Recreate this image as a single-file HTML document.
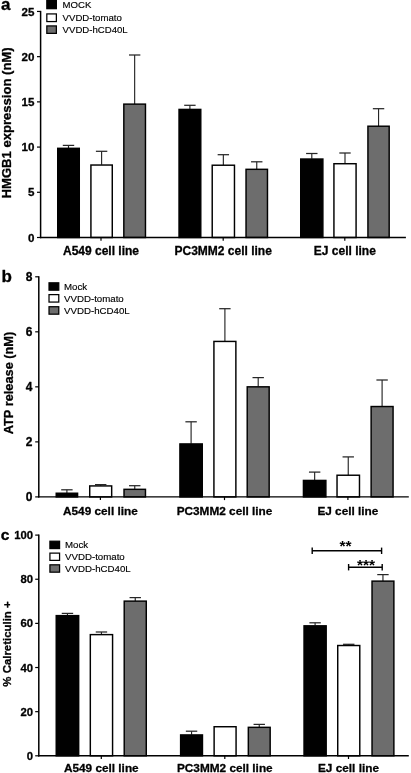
<!DOCTYPE html>
<html><head><meta charset="utf-8"><title>chart</title>
<style>
html,body{margin:0;padding:0;background:#fff;}
body{width:411px;height:773px;overflow:hidden;font-family:"Liberation Sans",sans-serif;}
svg{display:block;opacity:0.999;will-change:transform;}
svg text{font-family:"Liberation Sans",sans-serif;fill:#000;}
.b{stroke:#000;stroke-width:0.3px;stroke-linejoin:round;}
.b{font-weight:bold;}
.l{stroke:#000;stroke-width:0.15px;}
</style></head><body>
<svg width="411" height="773" viewBox="0 0 411 773">
<rect x="0" y="0" width="411" height="773" fill="#fff"/>
<line x1="68.50" y1="145.40" x2="68.50" y2="148.10" stroke="#262626" stroke-width="1.15"/>
<line x1="62.80" y1="145.40" x2="74.20" y2="145.40" stroke="#262626" stroke-width="1.25"/>
<rect x="57.73" y="148.32" width="21.55" height="89.18" fill="#000" stroke="#000" stroke-width="1.45"/>
<line x1="101.60" y1="151.30" x2="101.60" y2="164.80" stroke="#262626" stroke-width="1.15"/>
<line x1="95.90" y1="151.30" x2="107.30" y2="151.30" stroke="#262626" stroke-width="1.25"/>
<rect x="90.92" y="165.03" width="21.35" height="72.47" fill="#fff" stroke="#000" stroke-width="1.45"/>
<line x1="134.65" y1="55.00" x2="134.65" y2="103.90" stroke="#262626" stroke-width="1.15"/>
<line x1="128.95" y1="55.00" x2="140.35" y2="55.00" stroke="#262626" stroke-width="1.25"/>
<rect x="123.82" y="104.12" width="21.65" height="133.38" fill="#6d6d6d" stroke="#000" stroke-width="1.45"/>
<line x1="189.90" y1="105.30" x2="189.90" y2="109.20" stroke="#262626" stroke-width="1.15"/>
<line x1="184.20" y1="105.30" x2="195.60" y2="105.30" stroke="#262626" stroke-width="1.25"/>
<rect x="179.03" y="109.42" width="21.75" height="128.08" fill="#000" stroke="#000" stroke-width="1.45"/>
<line x1="223.35" y1="154.70" x2="223.35" y2="165.00" stroke="#262626" stroke-width="1.15"/>
<line x1="217.65" y1="154.70" x2="229.05" y2="154.70" stroke="#262626" stroke-width="1.25"/>
<rect x="212.22" y="165.22" width="22.25" height="72.28" fill="#fff" stroke="#000" stroke-width="1.45"/>
<line x1="256.75" y1="161.80" x2="256.75" y2="169.10" stroke="#262626" stroke-width="1.15"/>
<line x1="251.05" y1="161.80" x2="262.45" y2="161.80" stroke="#262626" stroke-width="1.25"/>
<rect x="246.03" y="169.32" width="21.45" height="68.18" fill="#6d6d6d" stroke="#000" stroke-width="1.45"/>
<line x1="311.80" y1="153.50" x2="311.80" y2="158.80" stroke="#262626" stroke-width="1.15"/>
<line x1="306.10" y1="153.50" x2="317.50" y2="153.50" stroke="#262626" stroke-width="1.25"/>
<rect x="300.73" y="159.03" width="22.15" height="78.47" fill="#000" stroke="#000" stroke-width="1.45"/>
<line x1="345.00" y1="153.00" x2="345.00" y2="163.50" stroke="#262626" stroke-width="1.15"/>
<line x1="339.30" y1="153.00" x2="350.70" y2="153.00" stroke="#262626" stroke-width="1.25"/>
<rect x="333.93" y="163.72" width="22.15" height="73.78" fill="#fff" stroke="#000" stroke-width="1.45"/>
<line x1="378.55" y1="108.70" x2="378.55" y2="126.00" stroke="#262626" stroke-width="1.15"/>
<line x1="372.85" y1="108.70" x2="384.25" y2="108.70" stroke="#262626" stroke-width="1.25"/>
<rect x="367.93" y="126.22" width="21.25" height="111.28" fill="#6d6d6d" stroke="#000" stroke-width="1.45"/>
<line x1="40.60" y1="10.85" x2="40.60" y2="238.20" stroke="#000" stroke-width="1.50"/>
<line x1="39.90" y1="237.50" x2="405.90" y2="237.50" stroke="#000" stroke-width="1.40"/>
<line x1="37.00" y1="237.50" x2="40.60" y2="237.50" stroke="#000" stroke-width="1.20"/>
<text class="b" x="34.40" y="241.62" font-size="11.6" text-anchor="end">0</text>
<line x1="37.00" y1="192.29" x2="40.60" y2="192.29" stroke="#000" stroke-width="1.20"/>
<text class="b" x="34.40" y="196.41" font-size="11.6" text-anchor="end">5</text>
<line x1="37.00" y1="147.08" x2="40.60" y2="147.08" stroke="#000" stroke-width="1.20"/>
<text class="b" x="34.40" y="151.20" font-size="11.6" text-anchor="end">10</text>
<line x1="37.00" y1="101.87" x2="40.60" y2="101.87" stroke="#000" stroke-width="1.20"/>
<text class="b" x="34.40" y="105.99" font-size="11.6" text-anchor="end">15</text>
<line x1="37.00" y1="56.66" x2="40.60" y2="56.66" stroke="#000" stroke-width="1.20"/>
<text class="b" x="34.40" y="60.78" font-size="11.6" text-anchor="end">20</text>
<line x1="37.00" y1="11.45" x2="40.60" y2="11.45" stroke="#000" stroke-width="1.20"/>
<text class="b" x="34.40" y="15.57" font-size="11.6" text-anchor="end">25</text>
<line x1="101.00" y1="237.50" x2="101.00" y2="240.70" stroke="#000" stroke-width="1.20"/>
<text class="b" x="101.00" y="255.30" font-size="12" text-anchor="middle">A549 cell line</text>
<line x1="223.20" y1="237.50" x2="223.20" y2="240.70" stroke="#000" stroke-width="1.20"/>
<text class="b" x="223.20" y="255.30" font-size="12" text-anchor="middle">PC3MM2 cell line</text>
<line x1="344.80" y1="237.50" x2="344.80" y2="240.70" stroke="#000" stroke-width="1.20"/>
<text class="b" x="344.80" y="255.30" font-size="12" text-anchor="middle">EJ cell line</text>
<text class="b" transform="translate(11.10 122.90) rotate(-90)" font-size="13" text-anchor="middle" textLength="151.0" lengthAdjust="spacingAndGlyphs">HMGB1 expression (nM)</text>
<text class="b" x="1.10" y="10.20" font-size="17">a</text>
<rect x="46.82" y="-0.38" width="9.55" height="9.05" fill="#000" stroke="#000" stroke-width="1.25"/>
<text class="l" x="62.60" y="8.40" font-size="9.6">MOCK</text>
<rect x="46.82" y="13.92" width="9.55" height="7.65" fill="#fff" stroke="#000" stroke-width="1.25"/>
<text class="l" x="62.60" y="21.30" font-size="9.6">VVDD-tomato</text>
<rect x="46.82" y="25.92" width="9.55" height="7.45" fill="#6d6d6d" stroke="#000" stroke-width="1.25"/>
<text class="l" x="62.60" y="33.10" font-size="9.6">VVDD-hCD40L</text>
<line x1="66.90" y1="489.80" x2="66.90" y2="493.00" stroke="#262626" stroke-width="1.15"/>
<line x1="61.20" y1="489.80" x2="72.60" y2="489.80" stroke="#262626" stroke-width="1.25"/>
<rect x="56.23" y="493.23" width="21.35" height="3.67" fill="#000" stroke="#000" stroke-width="1.45"/>
<line x1="100.70" y1="484.60" x2="100.70" y2="485.70" stroke="#262626" stroke-width="1.15"/>
<line x1="95.00" y1="484.60" x2="106.40" y2="484.60" stroke="#262626" stroke-width="1.25"/>
<rect x="89.72" y="485.93" width="21.95" height="10.97" fill="#fff" stroke="#000" stroke-width="1.45"/>
<line x1="134.75" y1="485.70" x2="134.75" y2="489.10" stroke="#262626" stroke-width="1.15"/>
<line x1="129.05" y1="485.70" x2="140.45" y2="485.70" stroke="#262626" stroke-width="1.25"/>
<rect x="124.02" y="489.33" width="21.45" height="7.57" fill="#6d6d6d" stroke="#000" stroke-width="1.45"/>
<line x1="191.10" y1="421.80" x2="191.10" y2="443.70" stroke="#262626" stroke-width="1.15"/>
<line x1="185.40" y1="421.80" x2="196.80" y2="421.80" stroke="#262626" stroke-width="1.25"/>
<rect x="179.92" y="443.93" width="22.35" height="52.97" fill="#000" stroke="#000" stroke-width="1.45"/>
<line x1="224.90" y1="308.70" x2="224.90" y2="341.20" stroke="#262626" stroke-width="1.15"/>
<line x1="219.20" y1="308.70" x2="230.60" y2="308.70" stroke="#262626" stroke-width="1.25"/>
<rect x="213.92" y="341.43" width="21.95" height="155.47" fill="#fff" stroke="#000" stroke-width="1.45"/>
<line x1="258.20" y1="377.60" x2="258.20" y2="386.60" stroke="#262626" stroke-width="1.15"/>
<line x1="252.50" y1="377.60" x2="263.90" y2="377.60" stroke="#262626" stroke-width="1.25"/>
<rect x="247.22" y="386.83" width="21.95" height="110.07" fill="#6d6d6d" stroke="#000" stroke-width="1.45"/>
<line x1="314.65" y1="472.10" x2="314.65" y2="480.20" stroke="#262626" stroke-width="1.15"/>
<line x1="308.95" y1="472.10" x2="320.35" y2="472.10" stroke="#262626" stroke-width="1.25"/>
<rect x="303.43" y="480.43" width="22.45" height="16.47" fill="#000" stroke="#000" stroke-width="1.45"/>
<line x1="348.25" y1="456.90" x2="348.25" y2="475.00" stroke="#262626" stroke-width="1.15"/>
<line x1="342.55" y1="456.90" x2="353.95" y2="456.90" stroke="#262626" stroke-width="1.25"/>
<rect x="337.03" y="475.23" width="22.45" height="21.67" fill="#fff" stroke="#000" stroke-width="1.45"/>
<line x1="382.10" y1="380.00" x2="382.10" y2="406.30" stroke="#262626" stroke-width="1.15"/>
<line x1="376.40" y1="380.00" x2="387.80" y2="380.00" stroke="#262626" stroke-width="1.25"/>
<rect x="371.12" y="406.53" width="21.95" height="90.37" fill="#6d6d6d" stroke="#000" stroke-width="1.45"/>
<line x1="38.80" y1="276.20" x2="38.80" y2="497.60" stroke="#000" stroke-width="1.50"/>
<line x1="38.10" y1="496.90" x2="408.80" y2="496.90" stroke="#000" stroke-width="1.40"/>
<line x1="35.20" y1="496.90" x2="38.80" y2="496.90" stroke="#000" stroke-width="1.20"/>
<text class="b" x="32.40" y="501.16" font-size="12" text-anchor="end">0</text>
<line x1="35.20" y1="441.88" x2="38.80" y2="441.88" stroke="#000" stroke-width="1.20"/>
<text class="b" x="32.40" y="446.13" font-size="12" text-anchor="end">2</text>
<line x1="35.20" y1="386.85" x2="38.80" y2="386.85" stroke="#000" stroke-width="1.20"/>
<text class="b" x="32.40" y="391.11" font-size="12" text-anchor="end">4</text>
<line x1="35.20" y1="331.82" x2="38.80" y2="331.82" stroke="#000" stroke-width="1.20"/>
<text class="b" x="32.40" y="336.08" font-size="12" text-anchor="end">6</text>
<line x1="35.20" y1="276.80" x2="38.80" y2="276.80" stroke="#000" stroke-width="1.20"/>
<text class="b" x="32.40" y="281.06" font-size="12" text-anchor="end">8</text>
<line x1="100.40" y1="496.90" x2="100.40" y2="500.10" stroke="#000" stroke-width="1.20"/>
<text class="b" x="100.40" y="514.70" font-size="11.8" text-anchor="middle">A549 cell line</text>
<line x1="224.50" y1="496.90" x2="224.50" y2="500.10" stroke="#000" stroke-width="1.20"/>
<text class="b" x="224.50" y="514.70" font-size="11.8" text-anchor="middle">PC3MM2 cell line</text>
<line x1="347.90" y1="496.90" x2="347.90" y2="500.10" stroke="#000" stroke-width="1.20"/>
<text class="b" x="347.90" y="514.70" font-size="11.8" text-anchor="middle">EJ cell line</text>
<text class="b" transform="translate(12.80 383.00) rotate(-90)" font-size="13.4" text-anchor="middle" textLength="102.5" lengthAdjust="spacingAndGlyphs">ATP release (nM)</text>
<text class="b" x="1.60" y="281.90" font-size="17">b</text>
<rect x="49.02" y="282.82" width="9.75" height="7.35" fill="#000" stroke="#000" stroke-width="1.25"/>
<text class="l" x="64.00" y="289.90" font-size="9.7">Mock</text>
<rect x="49.02" y="294.62" width="9.75" height="7.45" fill="#fff" stroke="#000" stroke-width="1.25"/>
<text class="l" x="64.00" y="301.80" font-size="9.7">VVDD-tomato</text>
<rect x="49.02" y="306.72" width="9.75" height="7.45" fill="#6d6d6d" stroke="#000" stroke-width="1.25"/>
<text class="l" x="64.00" y="313.90" font-size="9.7">VVDD-hCD40L</text>
<line x1="67.45" y1="613.40" x2="67.45" y2="615.40" stroke="#262626" stroke-width="1.15"/>
<line x1="61.75" y1="613.40" x2="73.15" y2="613.40" stroke="#262626" stroke-width="1.25"/>
<rect x="56.23" y="615.62" width="22.45" height="140.17" fill="#000" stroke="#000" stroke-width="1.45"/>
<line x1="101.45" y1="632.00" x2="101.45" y2="634.40" stroke="#262626" stroke-width="1.15"/>
<line x1="95.75" y1="632.00" x2="107.15" y2="632.00" stroke="#262626" stroke-width="1.25"/>
<rect x="90.32" y="634.62" width="22.25" height="121.17" fill="#fff" stroke="#000" stroke-width="1.45"/>
<line x1="135.25" y1="597.60" x2="135.25" y2="600.90" stroke="#262626" stroke-width="1.15"/>
<line x1="129.55" y1="597.60" x2="140.95" y2="597.60" stroke="#262626" stroke-width="1.25"/>
<rect x="124.22" y="601.12" width="22.05" height="154.67" fill="#6d6d6d" stroke="#000" stroke-width="1.45"/>
<line x1="191.55" y1="731.20" x2="191.55" y2="734.70" stroke="#262626" stroke-width="1.15"/>
<line x1="185.85" y1="731.20" x2="197.25" y2="731.20" stroke="#262626" stroke-width="1.25"/>
<rect x="180.62" y="734.93" width="21.85" height="20.87" fill="#000" stroke="#000" stroke-width="1.45"/>
<rect x="214.12" y="726.73" width="21.95" height="29.07" fill="#fff" stroke="#000" stroke-width="1.45"/>
<line x1="259.25" y1="724.40" x2="259.25" y2="727.10" stroke="#262626" stroke-width="1.15"/>
<line x1="253.55" y1="724.40" x2="264.95" y2="724.40" stroke="#262626" stroke-width="1.25"/>
<rect x="248.32" y="727.33" width="21.85" height="28.47" fill="#6d6d6d" stroke="#000" stroke-width="1.45"/>
<line x1="315.10" y1="622.80" x2="315.10" y2="625.60" stroke="#262626" stroke-width="1.15"/>
<line x1="309.40" y1="622.80" x2="320.80" y2="622.80" stroke="#262626" stroke-width="1.25"/>
<rect x="304.03" y="625.83" width="22.15" height="129.97" fill="#000" stroke="#000" stroke-width="1.45"/>
<line x1="348.75" y1="644.30" x2="348.75" y2="645.30" stroke="#262626" stroke-width="1.15"/>
<line x1="343.05" y1="644.30" x2="354.45" y2="644.30" stroke="#262626" stroke-width="1.25"/>
<rect x="337.73" y="645.52" width="22.05" height="110.28" fill="#fff" stroke="#000" stroke-width="1.45"/>
<line x1="382.95" y1="574.60" x2="382.95" y2="580.90" stroke="#262626" stroke-width="1.15"/>
<line x1="377.25" y1="574.60" x2="388.65" y2="574.60" stroke="#262626" stroke-width="1.25"/>
<rect x="372.03" y="581.12" width="21.85" height="174.67" fill="#6d6d6d" stroke="#000" stroke-width="1.45"/>
<line x1="38.80" y1="534.50" x2="38.80" y2="756.50" stroke="#000" stroke-width="1.50"/>
<line x1="38.10" y1="755.80" x2="408.80" y2="755.80" stroke="#000" stroke-width="1.40"/>
<line x1="35.20" y1="755.80" x2="38.80" y2="755.80" stroke="#000" stroke-width="1.20"/>
<text class="b" x="33.10" y="759.81" font-size="11.3" text-anchor="end">0</text>
<line x1="35.20" y1="711.66" x2="38.80" y2="711.66" stroke="#000" stroke-width="1.20"/>
<text class="b" x="33.10" y="715.67" font-size="11.3" text-anchor="end">20</text>
<line x1="35.20" y1="667.52" x2="38.80" y2="667.52" stroke="#000" stroke-width="1.20"/>
<text class="b" x="33.10" y="671.53" font-size="11.3" text-anchor="end">40</text>
<line x1="35.20" y1="623.38" x2="38.80" y2="623.38" stroke="#000" stroke-width="1.20"/>
<text class="b" x="33.10" y="627.39" font-size="11.3" text-anchor="end">60</text>
<line x1="35.20" y1="579.24" x2="38.80" y2="579.24" stroke="#000" stroke-width="1.20"/>
<text class="b" x="33.10" y="583.25" font-size="11.3" text-anchor="end">80</text>
<line x1="35.20" y1="535.10" x2="38.80" y2="535.10" stroke="#000" stroke-width="1.20"/>
<text class="b" x="33.10" y="539.11" font-size="11.3" text-anchor="end">100</text>
<line x1="101.30" y1="755.80" x2="101.30" y2="759.00" stroke="#000" stroke-width="1.20"/>
<text class="b" x="101.30" y="772.10" font-size="11.8" text-anchor="middle">A549 cell line</text>
<line x1="224.80" y1="755.80" x2="224.80" y2="759.00" stroke="#000" stroke-width="1.20"/>
<text class="b" x="224.80" y="772.10" font-size="11.8" text-anchor="middle">PC3MM2 cell line</text>
<line x1="348.50" y1="755.80" x2="348.50" y2="759.00" stroke="#000" stroke-width="1.20"/>
<text class="b" x="348.50" y="772.10" font-size="11.8" text-anchor="middle">EJ cell line</text>
<text class="b" transform="translate(11.20 644.00) rotate(-90)" font-size="11.5" text-anchor="middle" textLength="85.3" lengthAdjust="spacingAndGlyphs">% Calreticulin +</text>
<text class="b" x="0.80" y="540.00" font-size="15.5">c</text>
<rect x="49.92" y="541.22" width="9.65" height="7.35" fill="#000" stroke="#000" stroke-width="1.25"/>
<text class="l" x="65.00" y="548.30" font-size="9.7">Mock</text>
<rect x="49.92" y="553.12" width="9.65" height="7.25" fill="#fff" stroke="#000" stroke-width="1.25"/>
<text class="l" x="65.00" y="560.10" font-size="9.7">VVDD-tomato</text>
<rect x="49.92" y="564.82" width="9.65" height="7.35" fill="#6d6d6d" stroke="#000" stroke-width="1.25"/>
<text class="l" x="65.00" y="571.90" font-size="9.7">VVDD-hCD40L</text>
<line x1="312.20" y1="550.80" x2="381.60" y2="550.80" stroke="#000" stroke-width="1.50"/>
<line x1="312.20" y1="547.60" x2="312.20" y2="554.00" stroke="#000" stroke-width="1.40"/>
<line x1="381.60" y1="547.60" x2="381.60" y2="554.00" stroke="#000" stroke-width="1.40"/>
<text font-weight="bold" x="345.60" y="551.10" font-size="15.5" text-anchor="middle">**</text>
<line x1="348.60" y1="567.20" x2="382.20" y2="567.20" stroke="#000" stroke-width="1.50"/>
<line x1="348.60" y1="564.00" x2="348.60" y2="570.40" stroke="#000" stroke-width="1.40"/>
<line x1="382.20" y1="564.00" x2="382.20" y2="570.40" stroke="#000" stroke-width="1.40"/>
<text font-weight="bold" x="366.00" y="570.00" font-size="15.5" text-anchor="middle">***</text>
</svg>
</body></html>
